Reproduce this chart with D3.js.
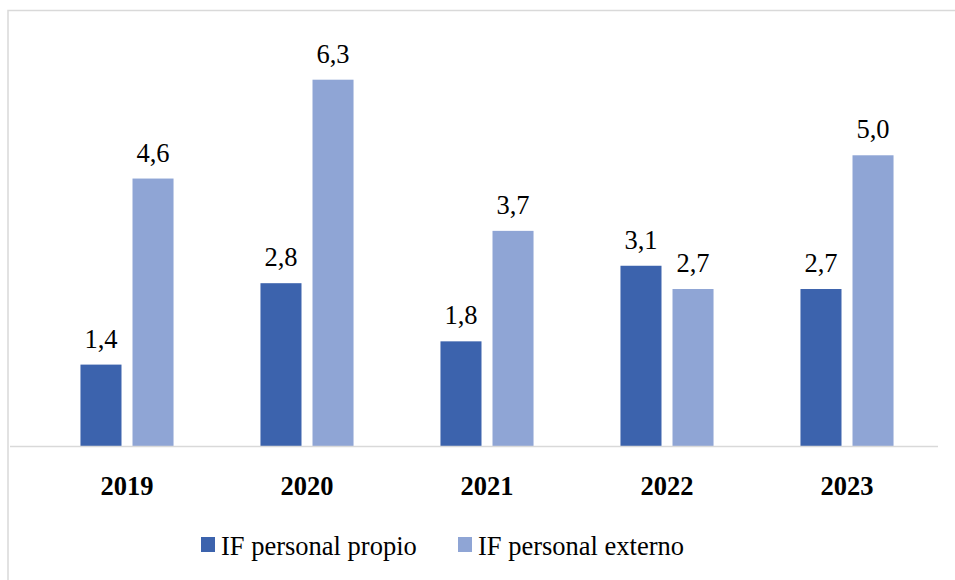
<!DOCTYPE html>
<html>
<head>
<meta charset="utf-8">
<script src="https://cdn.jsdelivr.net/npm/d3@7"></script>
<style>
  body { margin: 0; background: #fff; }
  svg text { font-family: "Times New Roman", Times, "Liberation Serif", "DejaVu Serif", serif; fill: #000; }
</style>
</head>
<body>
<div id="chart"></div>
<script>
// Data
const years = ["2019", "2020", "2021", "2022", "2023"];
const seriesNames = ["IF personal propio", "IF personal externo"];
const propio = [1.4, 2.8, 1.8, 3.1, 2.7];
const externo = [4.6, 6.3, 3.7, 2.7, 5.0];
const colors = ["#3c63ad", "#8fa5d5"];

const W = 955, H = 580;
const plot = {left: 37, right: 937, top: 39, bottom: 446};
const serif = "'Times New Roman', Times, 'Liberation Serif', 'DejaVu Serif', serif";

const svg = d3.select("#chart")
  .append("svg")
  .attr("width", W)
  .attr("height", H)
  .attr("font-family", serif);

// chart border
svg.append("rect")
  .attr("x", 8).attr("y", 10.5)
  .attr("width", 1000).attr("height", 700)
  .attr("fill", "#fff")
  .attr("stroke", "#d9d9d9")
  .attr("stroke-width", 1.5);

const x = d3.scaleBand()
  .domain(years)
  .range([plot.left, plot.right])
  .paddingInner(0.483)
  .paddingOuter(0.2415);

const xs = d3.scaleBand()
  .domain(seriesNames)
  .range([0, x.bandwidth()])
  .paddingInner(0.2115);

const y = d3.scaleLinear()
  .domain([0, 7])
  .range([plot.bottom, plot.top]);

const fmt = v => d3.format(".1f")(v).replace(".", ",");

const rows = years.map((yr, i) => ({year: yr, values: [propio[i], externo[i]]}));

const groups = svg.append("g")
  .selectAll("g")
  .data(rows)
  .enter()
  .append("g")
  .attr("transform", d => `translate(${x(d.year)},0)`);

groups.selectAll("rect")
  .data(d => d.values.map((v, j) => ({name: seriesNames[j], value: v, j})))
  .enter()
  .append("rect")
  .attr("x", d => xs(d.name))
  .attr("y", d => y(d.value))
  .attr("width", xs.bandwidth())
  .attr("height", d => y(0) - y(d.value))
  .attr("fill", d => colors[d.j]);

groups.selectAll("text.val")
  .data(d => d.values.map((v, j) => ({name: seriesNames[j], value: v})))
  .enter()
  .append("text")
  .attr("class", "val")
  .attr("x", d => xs(d.name) + xs.bandwidth() / 2)
  .attr("y", d => y(d.value) - 17)
  .attr("text-anchor", "middle")
  .style("font-family", serif)
  .style("font-size", "26.5px")
  .text(d => fmt(d.value));

// X axis
const xAxis = svg.append("g")
  .attr("transform", `translate(0,${plot.bottom})`)
  .call(d3.axisBottom(x).tickSize(0).tickPadding(0));

xAxis.attr("font-family", serif);

xAxis.select(".domain")
  .attr("d", `M10,0.5H938`)
  .attr("stroke", "#d9d9d9")
  .attr("stroke-width", 1.5);

xAxis.selectAll("text")
  .attr("dy", null)
  .attr("y", 49)
  .style("font-family", serif)
  .style("font-size", "26.5px")
  .style("font-weight", "bold")
  .attr("fill", "#000");

// Legend
const legendX = [201, 458];
const legend = svg.append("g")
  .selectAll("g")
  .data(seriesNames)
  .enter()
  .append("g")
  .attr("transform", (d, i) => `translate(${legendX[i]},537)`);

legend.append("rect")
  .attr("width", 14)
  .attr("height", 15)
  .attr("fill", (d, i) => colors[i]);

legend.append("text")
  .attr("x", 20)
  .attr("y", 18)
  .style("font-family", serif)
  .style("font-size", "26.5px")
  .text(d => d);
</script>
</body>
</html>
